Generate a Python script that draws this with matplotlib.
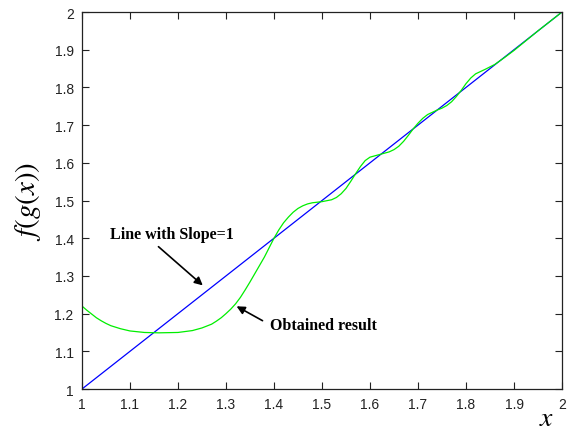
import matplotlib
matplotlib.use('Agg')
import matplotlib.pyplot as plt

# line with slope 1
line_x = [1.0, 2.0]
line_y = [1.0, 2.0]

# obtained result
res_x = [1.00, 1.01, 1.02, 1.03, 1.04, 1.05, 1.06, 1.08, 1.10, 1.13,
         1.16, 1.20, 1.23, 1.25, 1.27, 1.28, 1.29, 1.30, 1.31, 1.32,
         1.33, 1.34, 1.35, 1.36, 1.37, 1.38, 1.39, 1.40, 1.41, 1.42,
         1.43, 1.44, 1.45, 1.46, 1.47, 1.48, 1.50, 1.52, 1.53, 1.54,
         1.55, 1.56, 1.57, 1.58, 1.59, 1.60, 1.62, 1.64, 1.65, 1.66,
         1.67, 1.68, 1.69, 1.70, 1.71, 1.72, 1.74, 1.75, 1.76, 1.77,
         1.78, 1.79, 1.80, 1.81, 1.82, 1.84, 1.86, 1.88, 1.90, 1.95,
         2.00]
res_y = [1.220, 1.209, 1.199, 1.189, 1.181, 1.174, 1.168, 1.160, 1.154, 1.150,
         1.149, 1.150, 1.155, 1.162, 1.172, 1.180, 1.189, 1.200, 1.212, 1.226,
         1.243, 1.263, 1.284, 1.306, 1.328, 1.350, 1.375, 1.400, 1.422, 1.441,
         1.456, 1.469, 1.479, 1.486, 1.491, 1.494, 1.497, 1.502, 1.508, 1.518,
         1.532, 1.551, 1.571, 1.590, 1.606, 1.615, 1.622, 1.629, 1.635, 1.644,
         1.657, 1.673, 1.690, 1.705, 1.718, 1.728, 1.740, 1.745, 1.752, 1.762,
         1.776, 1.792, 1.810, 1.825, 1.836, 1.848, 1.861, 1.879, 1.898, 1.950,
         2.000]

xticks = [1, 1.1, 1.2, 1.3, 1.4, 1.5, 1.6, 1.7, 1.8, 1.9, 2]
yticks = [1, 1.1, 1.2, 1.3, 1.4, 1.5, 1.6, 1.7, 1.8, 1.9, 2]

plt.rcParams['font.family'] = 'Liberation Sans'
plt.rcParams['mathtext.fontset'] = 'stix'

fig = plt.figure(figsize=(5.69, 4.31), dpi=100)
ax = fig.add_axes([0.1441, 0.0951, 0.8436, 0.8747])

ax.plot(line_x, line_y, color='#0000ff', lw=0.9)
ax.plot(res_x, res_y, color='#00ee00', lw=0.9)

ax.set_xlim(1, 2)
ax.set_ylim(1, 2)
ax.set_xticks(xticks)
ax.set_yticks(yticks)
ax.set_xticklabels(['%g' % t for t in xticks])
ax.set_yticklabels(['%g' % t for t in yticks])
ax.tick_params(direction='in', top=True, right=True, length=5, width=0.8,
               labelsize=10, colors='#222222', pad=6)
for s in ax.spines.values():
    s.set_linewidth(0.9)
    s.set_color('#222222')

ax.set_ylabel(r'$f(g(x))$', fontsize=21, labelpad=8)
fig.text(0.96, 0.028, r'$\mathbf{\mathit{x}}$', fontsize=20, ha='center', va='center')

ax.annotate('Line with Slope=1', xy=(1.256, 1.27), xytext=(1.058, 1.411),
            fontsize=11.5, fontweight='bold', family='Liberation Serif',
            va='center', ha='left',
            arrowprops=dict(arrowstyle='-|>', color='black', lw=1.2,
                            mutation_scale=12, shrinkA=2,
                            relpos=(0.35, 0.0)))
ax.annotate('Obtained result', xy=(1.317, 1.223), xytext=(1.392, 1.17),
            fontsize=11.5, fontweight='bold', family='Liberation Serif',
            va='center', ha='left',
            arrowprops=dict(arrowstyle='-|>', color='black', lw=1.2,
                            mutation_scale=12, shrinkA=4,
                            relpos=(0.0, 0.5)))

fig.savefig('out.png', dpi=100)
